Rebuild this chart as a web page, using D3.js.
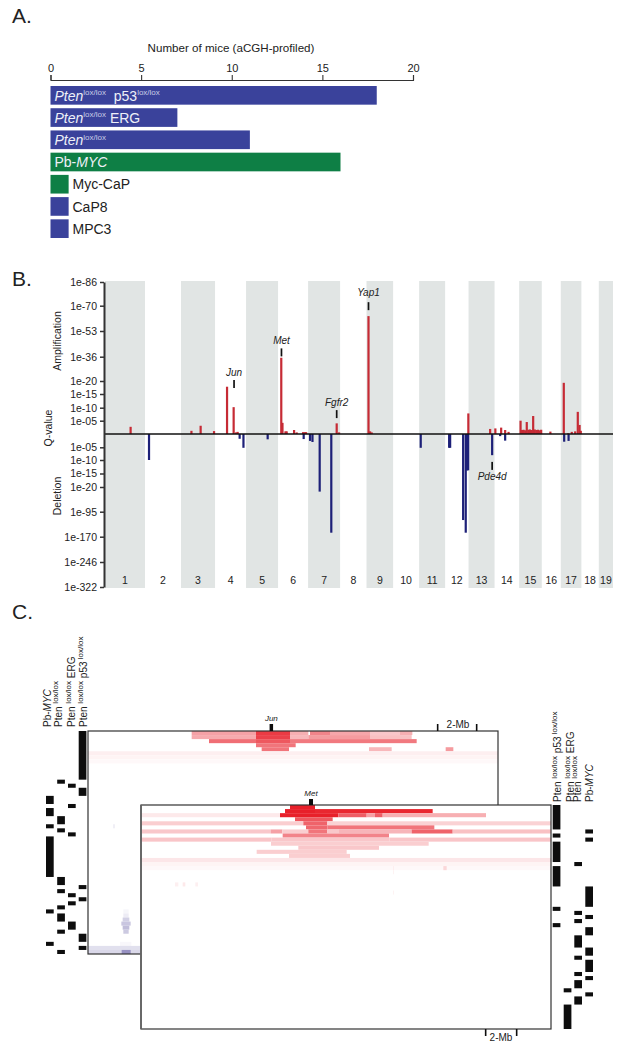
<!DOCTYPE html>
<html lang="en">
<head>
<meta charset="UTF-8">
<title>aCGH mouse prostate tumours</title>
<style>
  html, body { margin: 0; padding: 0; background: #fff; }
  svg { display: block; font-family: "Liberation Sans", Arial, sans-serif; fill: #222; }
  .domain, .tick line { stroke: #333; }
</style>
</head>
<body>
<svg id="chart" width="632" height="1048"></svg>
<script src="https://d3js.org/d3.v7.min.js"></script>
<script>
// ---- panel A
const modelNames = ["PtenP53", "PtenERG", "Pten", "PbMYC", "Myc-CaP", "CaP8", "MPC3"];
const modelCounts = [18, 7, 11, 16, 1, 1, 1];
const modelGroup = ["pten", "pten", "pten", "myc", "myc", "pten", "pten"];
const countTicks = [0, 5, 10, 15, 20];

// ---- panel B: signed exponent of the q-value, + amplification, - deletion
const qTicks = [86, 70, 53, 36, 20, 15, 10, 5, -5, -10, -15, -20, -95, -170, -246, -322];
const qStops = [86, 70, 53, 36, 20, 15, 10, 5, 0, -5, -10, -15, -20, -95, -170, -246, -322];
const chromNames = ["1","2","3","4","5","6","7","8","9","10","11","12","13","14","15","16","17","18","19"];
const chromSizes = [200,180,170,155,160,150,160,132,133,130,130,117,130,123,113,95,103,87,71];
const ampPos = [128,432,478,545,610,643,655,663,881,887,902,908,945,958,990,998,1005,1158,1170,1317,1325,1333,1816,1925,1951,1980,2000,2017,
  2077,2084,2092,2100,2108,2116,2124,2133,2140,2148,2156,2164,2172,2180,2226,2293,2315,2333,2350,2363,2372,2378];
const ampExp = [2.7,1.2,3.1,1.1,17.8,10.2,0.6,0.8,35.3,4.2,1,1,1.5,0.6,0.7,0.7,0.7,4,0.6,63,1,0.6,7.8,1.9,2.1,2.4,1.5,0.8,
  5,1.5,1.6,1.4,4.5,1.6,1.7,1.5,6.8,1.7,1.5,1.6,1.4,1.6,0.9,19.3,0.3,0.8,1,8.4,3.4,1.2];
const delPos = [220,673,692,813,993,1025,1037,1073,1131,1578,1720,1725,1790,1803,1808,1811,1815,1935,1975,2000,2295,2317];
const delExp = [-10,-1.8,-5.2,-2,-1.9,-2.6,-3,-34,-158,-5.2,-5.2,-5.2,-120,-158,-13.8,-13.8,-13.8,-8.1,-0.8,-2.5,-2.9,-2.6];
const geneNames = ["Jun", "Met", "Yap1", "Fgfr2", "Pde4d"];
const genePos = [645, 882, 1317, 1158, 1935];
const geneAnchor = [17.3, 36.2, 67, 6, -10.7];

// ---- panel C: rows are mice, columns are probe indices
// [row, first probe, last probe, level]
const junCells = [
  [0,155,348,.42],[0,348,450,.88],[0,450,505,.36],[0,510,570,.55],[0,570,690,.4],[0,690,780,.25],[0,780,817,.36],
  [1,155,348,.38],[1,348,450,.85],[1,450,505,.32],[1,505,690,.45],[1,690,815,.28],
  [2,207,348,.65],[2,348,450,.75],[2,450,830,.6],
  [3,348,467,.62],
  [4,365,447,.62],[4,687,755,.32],[4,917,940,.45],
  [5,-156,1074,.07],[6,-156,1074,.05],[7,-156,1074,.03]
];
const metCells = [
  [0,450,525,1],
  [1,435,525,1],[1,525,878,.97],
  [2,3,420,.1],[2,420,595,1],[2,595,680,.72],[2,680,705,.42],[2,705,728,.72],[2,728,1038,.36],
  [3,465,578,.75],
  [4,3,490,.22],[4,490,562,.7],[4,562,1233,.2],
  [5,498,562,.68],[5,562,883,.62],
  [6,3,392,.25],[6,392,427,.42],[6,427,505,.22],[6,505,562,.62],[6,562,597,.25],[6,597,815,.33],[6,815,938,.7],[6,938,1233,.28],
  [7,428,747,.55],
  [8,3,395,.26],[8,395,748,.25],[8,748,1233,.26],
  [9,393,866,.22],
  [10,475,717,.25],
  [11,350,620,.22],
  [12,447,630,.22],
  [13,3,1233,.11],[14,3,1233,.05],[15,3,1233,.03],
  [15,910,920,.18],
  [15,759,761,.1],[16,759,761,.08],[21,759,761,.08],
  [19,105,115,.07],[19,128,136,.1],[19,166,174,.07]
];
const junDelCells = [
  [44,-50,-34,.06],[45,-50,-34,.12],[46,-52,-32,.3],[47,-56,-28,.36],[48,-52,-32,.42],[49,-50,-34,.34],
  [52,-60,-26,.05],
  [53,-156,3,.2],[54,-156,3,.25],[54,-55,-28,.7],
  [23,-81,-75,.1]
];
const leftP53 = [[0,12],[14,16],[38,39],[41,42],[50,52],[53,54]];
const leftErg = [[13,14],[18,19],[25,26],[40,41],[42,43],[47,49]];
const leftPten = [[12,13],[21,23],[24,25],[36,38],[39,40],[43,44],[45,47],[49,50],[54,55]];
const leftMyc = [[16,18],[19,21],[23,24],[26,36],[44,45],[52,53]];
const rightP53 = [[0,6],[7,8],[9,14],[15,20],[25,26],[29,30]];
const rightErg = [[45,46],[49,55]];
const rightPten = [[14,15],[26,27],[28,29],[32,35],[37,38],[41,42],[43,45],[47,49]];
const rightMyc = [[6,7],[8,9],[20,25],[27,28],[30,32],[35,37],[38,41],[42,43],[46,47]];

const svg = d3.select("#chart");

function panelLetter(text, y) {
  svg.append("text").attr("x", 12).attr("y", y).attr("font-size", 21).text(text);
}
panelLetter("A.", 23);
panelLetter("B.", 286);
panelLetter("C.", 619);

// writes "Pten lox/lox"-style pieces into a text element: [text, italic, sup]
function addPieces(sel, pieces, size, supSize, supColor) {
  let up = 0;
  pieces.forEach(p => {
    const t = sel.append("tspan").text(p[0]);
    const target = p[2] ? size * 0.38 : 0;
    t.attr("dy", up - target);
    up = target;
    t.attr("font-size", p[2] ? supSize : size);
    if (p[1]) t.attr("font-style", "italic");
    if (p[2] && supColor) t.attr("fill", supColor);
  });
}

// ---------- A
const xCount = d3.scaleLinear().domain([0, 20]).range([50.5, 413]);
const yModel = d3.scaleBand().domain(modelNames).range([86, 238]).paddingInner(0.16);
const groupColor = d3.scaleOrdinal().domain(["pten", "myc"]).range(["#3a429b", "#0e7f45"]);

const gA = svg.append("g");
gA.append("g")
  .attr("transform", "translate(0,80)")
  .call(d3.axisTop(xCount).tickValues(countTicks).tickSize(5).tickSizeOuter(5))
  .call(g => g.selectAll(".domain,.tick line").attr("stroke-width", 1.1))
  .call(g => g.selectAll("text").attr("font-size", 11).attr("fill", "#222").attr("font-family", "Liberation Sans"));
gA.append("text").attr("x", 231).attr("y", 52).attr("text-anchor", "middle")
  .attr("font-size", 11.6).text("Number of mice (aCGH-profiled)");

gA.selectAll("rect.bar").data(modelNames).enter().append("rect")
  .attr("class", "bar")
  .attr("x", xCount(0))
  .attr("y", d => yModel(d))
  .attr("height", yModel.bandwidth())
  .attr("width", (d, i) => xCount(modelCounts[i]) - xCount(0))
  .attr("fill", (d, i) => groupColor(modelGroup[i]));

const barLabels = [
  [["Pten", true], ["lox/lox", false, true], ["  p53", false], ["lox/lox", false, true]],
  [["Pten", true], ["lox/lox", false, true], [" ERG", false]],
  [["Pten", true], ["lox/lox", false, true]],
  [["Pb-", false], ["MYC", true]]
];
barLabels.forEach((pieces, i) => {
  const t = gA.append("text").attr("xml:space", "preserve").style("white-space", "pre")
    .attr("x", 54.5).attr("y", yModel(modelNames[i]) + 14.5).attr("fill", "#eef0f8");
  addPieces(t, pieces, 14, 8, "#c9cce6");
});
modelNames.slice(4).forEach(n => {
  gA.append("text").attr("x", 72.5).attr("y", yModel(n) + 14.5).attr("font-size", 14).text(n);
});

// ---------- B
const chromEdges = d3.cumsum(chromSizes);
const xGenome = d3.scaleLinear().domain([0, d3.sum(chromSizes)]).range([105, 613]);
const yQ = d3.scaleLinear().domain(qStops)
  .range([282, 305.7, 331, 356.7, 381, 394, 407.7, 420.7, 434, 447.3, 460, 473.5, 487, 511.7, 536.7, 562, 587]);

const gB = svg.append("g");
chromNames.forEach((c, i) => {
  const from = i ? chromEdges[i - 1] : 0, to = chromEdges[i];
  if (i % 2 === 0) {
    gB.append("rect").attr("x", xGenome(from)).attr("width", xGenome(to) - xGenome(from))
      .attr("y", 281).attr("height", 307).attr("fill", "#e1e5e4");
  }
  gB.append("text").attr("x", xGenome((from + to) / 2)).attr("y", 584)
    .attr("text-anchor", "middle").attr("font-size", 10.5).text(c);
});

const barW = 2.2;
gB.selectAll("rect.amp").data(ampPos).enter().append("rect").attr("class", "amp")
  .attr("x", d => xGenome(d) - barW / 2).attr("width", barW)
  .attr("y", (d, i) => yQ(ampExp[i]))
  .attr("height", (d, i) => yQ(0) - yQ(ampExp[i]))
  .attr("fill", "#c62b35");
gB.selectAll("rect.del").data(delPos).enter().append("rect").attr("class", "del")
  .attr("x", d => xGenome(d) - barW / 2).attr("width", barW)
  .attr("y", yQ(0))
  .attr("height", (d, i) => yQ(delExp[i]) - yQ(0))
  .attr("fill", "#1d2078");

gB.append("line").attr("x1", 104).attr("x2", 613).attr("y1", yQ(0)).attr("y2", yQ(0))
  .attr("stroke", "#111").attr("stroke-width", 1.5);

gB.append("g").attr("transform", "translate(104,0)")
  .call(d3.axisLeft(yQ).tickValues(qTicks).tickSize(4).tickSizeOuter(0)
    .tickFormat(d => "1e-" + String(Math.abs(d)).padStart(2, "0")))
  .call(g => g.select(".domain").attr("stroke", "#111").attr("stroke-width", 2))
  .call(g => g.selectAll(".tick line").attr("stroke", "#111").attr("stroke-width", 1.5))
  .call(g => g.selectAll("text").attr("font-size", 10.5).attr("fill", "#222").attr("font-family", "Liberation Sans"));

[["Amplification", 57, 341], ["Q-value", 48, 428], ["Deletion", 57, 496]].forEach(d => {
  gB.append("text").attr("transform", `translate(${d[1]},${d[2]}) rotate(-90)`)
    .attr("text-anchor", "middle").attr("dy", "0.35em").attr("font-size", 10.5).text(d[0]);
});

const geneGap = [16, 16, 18, 16, 15];
geneNames.forEach((g, i) => {
  const x = xGenome(genePos[i]);
  const base = yQ(geneAnchor[i]);
  const dir = geneAnchor[i] > 0 ? -1 : 1;
  gB.append("line").attr("x1", x).attr("x2", x).attr("y1", base).attr("y2", base + dir * 8)
    .attr("stroke", "#111").attr("stroke-width", 1.7);
  gB.append("text").attr("x", x).attr("y", base + dir * geneGap[i]).attr("dy", "0.35em")
    .attr("text-anchor", "middle").attr("font-size", 10).attr("font-style", "italic").text(g);
});

// ---------- C
const heatRed = d3.scaleLinear().domain([0, 1]).range(["#ffffff", "#e8202a"]);
const heatBlue = d3.scaleLinear().domain([0, 1]).range(["#ffffff", "#6a62a8"]);
const rows = d3.range(55);

const xJun = d3.scaleLinear().domain([-156, 1074]).range([88, 498]);
const yJun = d3.scaleBand().domain(rows).range([731, 954]);
const xMet = d3.scaleLinear().domain([3, 1233]).range([141, 551]);
const yMet = d3.scaleBand().domain(rows).range([805, 1029]);

function heatPanel(cells, xs, ys, color) {
  cells.forEach(c => {
    svg.append("rect").attr("x", xs(c[1])).attr("width", xs(c[2]) - xs(c[1]))
      .attr("y", ys(c[0])).attr("height", ys.bandwidth()).attr("fill", color(c[3]));
  });
}
function annotation(blocks, left, ys) {
  blocks.forEach(b => {
    svg.append("rect").attr("x", left).attr("width", 7.7)
      .attr("y", ys(b[0])).attr("height", ys.bandwidth() * (b[1] - b[0])).attr("fill", "#0d0d0d");
  });
}
function frame(xs, ys) {
  const x0 = xs.range()[0], x1 = xs.range()[1], y0 = ys.range()[0], y1 = ys.range()[1];
  svg.append("rect").attr("x", x0).attr("y", y0).attr("width", x1 - x0).attr("height", y1 - y0)
    .attr("fill", "none").attr("stroke", "#333").attr("stroke-width", 1.2);
}
function marker(x, y0, y1, w) {
  svg.append("rect").attr("x", x - w / 2).attr("y", y0).attr("width", w).attr("height", y1 - y0).attr("fill", "#0d0d0d");
}

heatPanel(junCells, xJun, yJun, heatRed);
heatPanel(junDelCells, xJun, yJun, heatBlue);
frame(xJun, yJun);
annotation(leftMyc, 46, yJun);
annotation(leftPten, 57.2, yJun);
annotation(leftErg, 68, yJun);
annotation(leftP53, 78.7, yJun);

marker(xJun(394), 724, 731, 3.5);
svg.append("text").attr("x", xJun(394)).attr("y", 718).attr("dy", "0.35em").attr("text-anchor", "middle")
  .attr("font-size", 8).attr("font-style", "italic").text("Jun");
marker(xJun(893), 724, 731, 1.6);
marker(xJun(1010), 724, 731, 1.6);
svg.append("text").attr("x", 458).attr("y", 724).attr("dy", "0.35em").attr("text-anchor", "middle")
  .attr("font-size", 10).text("2-Mb");

// front heatmap covers the one behind it
svg.append("rect").attr("x", 141).attr("y", 805).attr("width", 410).attr("height", 224).attr("fill", "#fff");
heatPanel(metCells, xMet, yMet, heatRed);
frame(xMet, yMet);
svg.append("line").attr("x1", 141).attr("x2", 141).attr("y1", 805).attr("y2", 1029)
  .attr("stroke", "#666").attr("stroke-width", 1.8);
annotation(rightP53, 552.7, yMet);
annotation(rightErg, 563.7, yMet);
annotation(rightPten, 574.3, yMet);
annotation(rightMyc, 585.3, yMet);

marker(xMet(513), 799, 805, 4);
svg.append("text").attr("x", xMet(513)).attr("y", 793).attr("dy", "0.35em").attr("text-anchor", "middle")
  .attr("font-size", 8).attr("font-style", "italic").text("Met");
marker(xMet(1037), 1029, 1036, 1.6);
marker(xMet(1130), 1029, 1036, 1.6);
svg.append("text").attr("x", 501).attr("y", 1037).attr("dy", "0.35em").attr("text-anchor", "middle")
  .attr("font-size", 10).text("2-Mb");

// rotated genotype headers
const headers = {
  myc: [["Pb-", false], ["MYC", true]],
  pten: [["Pten ", false], ["lox/lox", false, true]],
  erg: [["Pten ", false], ["lox/lox", false, true], [" ERG", false]],
  p53: [["Pten ", false], ["lox/lox", false, true], [" p53", false], [" lox/lox", false, true]]
};
function header(pieces, x, y) {
  const t = svg.append("text").attr("transform", `translate(${x},${y}) rotate(-90)`).style("white-space", "pre");
  addPieces(t, pieces, 10, 8);
}
header(headers.myc, 51, 727);
header(headers.pten, 62, 727);
header(headers.erg, 75, 727);
header(headers.p53, 87, 727);
header(headers.p53, 561, 802);
header(headers.erg, 573.5, 802);
header(headers.pten, 581, 802);
header(headers.myc, 593, 802);
</script>
</body>
</html>
